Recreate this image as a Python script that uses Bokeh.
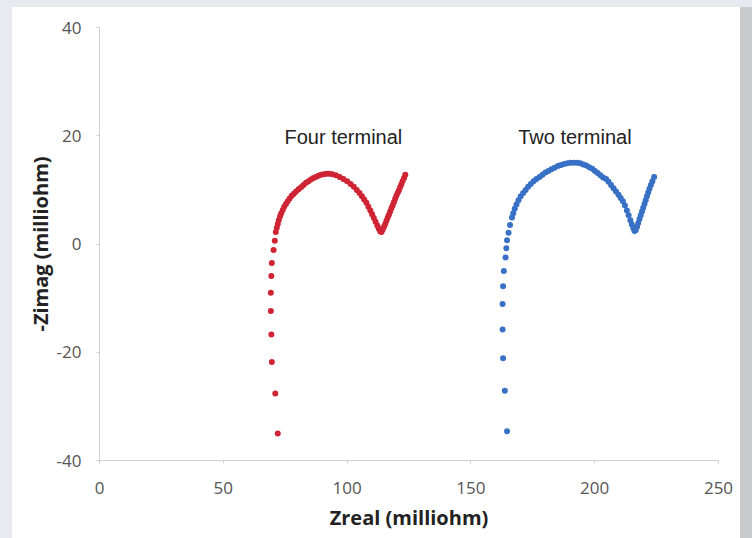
from bokeh.plotting import figure
from bokeh.models import Label, ColumnDataSource
from bokeh.embed import file_html
from bokeh.resources import INLINE

# Four terminal measurement (red): Zreal, -Zimag in milliohm
four_zreal = [72.0, 71.0, 69.6, 69.4, 69.2, 69.2, 69.4, 69.6, 70.3, 70.8, 71.2,
              71.6, 72.0, 72.4, 72.9, 73.4, 74.0, 74.6, 75.3, 76.0, 76.8, 77.6,
              78.5, 79.4, 80.4, 81.4, 82.4, 83.4, 84.4, 85.4, 86.4, 87.4, 88.4,
              89.5, 90.6, 91.7, 92.8, 94.0, 95.5, 97.0, 98.5, 100.0, 101.4, 102.7,
              103.9, 105.0, 106.0, 106.9, 107.8, 108.6, 109.4, 110.1, 110.8, 111.5,
              112.2, 112.8, 113.4, 113.9, 114.4, 114.9, 115.4, 115.9, 116.4, 116.9,
              117.4, 117.9, 118.4, 118.9, 119.4, 119.9, 120.4, 120.9, 121.4, 121.9,
              122.4, 123.0, 123.5]
four_zimag = [-35.0, -27.6, -21.8, -16.7, -12.4, -9.0, -5.9, -3.5, -1.1, 0.6, 2.2,
              3.0, 3.7, 4.4, 5.1, 5.7, 6.3, 6.9, 7.4, 7.9, 8.4, 8.9,
              9.3, 9.7, 10.1, 10.5, 10.9, 11.3, 11.6, 11.9, 12.2, 12.4, 12.6,
              12.8, 12.9, 13.0, 13.0, 12.9, 12.7, 12.4, 12.0, 11.6, 11.1, 10.6,
              10.0, 9.4, 8.8, 8.2, 7.6, 6.9, 6.2, 5.5, 4.8, 4.1,
              3.4, 2.8, 2.3, 2.2, 2.7, 3.2, 3.7, 4.3, 4.9, 5.4,
              6.0, 6.6, 7.1, 7.7, 8.3, 8.9, 9.4, 9.9, 10.5, 11.0,
              11.6, 12.2, 12.8]

# Two terminal measurement (blue)
two_zreal = [164.6, 163.7, 163.0, 162.8, 162.8, 163.0, 163.3, 164.0, 164.3, 164.6,
             165.2, 165.8, 166.6, 167.1, 167.7, 168.4, 169.2, 170.1, 171.1, 172.1,
             173.1, 174.2, 175.3, 176.5, 177.7, 178.9, 180.1, 181.3, 182.5, 183.8,
             185.1, 186.4, 187.7, 189.0, 190.3, 191.6, 192.9, 194.2, 195.4, 196.6,
             197.8, 199.0, 200.1, 201.2, 202.3, 203.4, 204.6, 205.6, 206.6, 207.6,
             208.6, 209.6, 210.5, 211.4, 212.2, 213.0, 213.7, 214.4, 215.0, 215.6,
             216.1, 216.6, 217.1, 217.6, 218.1, 218.6, 219.1, 219.6, 220.1, 220.6,
             221.1, 221.6, 222.1, 222.7, 223.3, 224.0]
two_zimag = [-34.6, -27.1, -21.1, -15.8, -11.1, -7.8, -5.0, -2.5, -0.8, 0.7,
             2.1, 3.5, 4.9, 5.7, 6.5, 7.3, 8.1, 8.8, 9.4, 10.0,
             10.6, 11.1, 11.6, 12.0, 12.4, 12.8, 13.2, 13.5, 13.8, 14.1,
             14.4, 14.6, 14.8, 14.9, 15.0, 15.0, 15.0, 14.9, 14.7, 14.5,
             14.2, 13.9, 13.5, 13.1, 12.7, 12.3, 12.0, 11.5, 10.9, 10.3,
             9.7, 9.1, 8.5, 7.9, 7.1, 6.2, 5.3, 4.4, 3.6, 2.9,
             2.4, 2.6, 3.2, 3.9, 4.6, 5.3, 6.0, 6.7, 7.4, 8.1,
             8.8, 9.5, 10.2, 10.9, 11.6, 12.4]

x_ticks = [0, 50, 100, 150, 200, 250]
y_ticks = [-40, -20, 0, 20, 40]
series_labels = ["Four terminal", "Two terminal"]
label_x = [98.5, 192.0]
label_y = [19.8, 19.8]

RED = "#cf2434"
BLUE = "#3870c6"

p = figure(width=752, height=538, x_range=(0, 250), y_range=(-40, 40),
           output_backend="svg", toolbar_location=None,
           min_border_left=99, min_border_right=34, min_border_top=27,
           min_border_bottom=78)
p.outline_line_color = None
p.xgrid.visible = False
p.ygrid.visible = False
p.background_fill_color = "white"
p.border_fill_color = None
p.styles = {"background-color": "white",
            "box-shadow": "inset 12px 7px 0 0 #e7ebef, inset -12px 0 0 0 #c9cacc"}

src4 = ColumnDataSource(dict(x=four_zreal, y=four_zimag))
src2 = ColumnDataSource(dict(x=two_zreal, y=two_zimag))
p.scatter("x", "y", source=src4, size=6, fill_color=RED, line_color=None)
p.scatter("x", "y", source=src2, size=6, fill_color=BLUE, line_color=None)

for t, lx, ly in zip(series_labels, label_x, label_y):
    p.add_layout(Label(x=lx, y=ly, text=t, text_align="center", text_baseline="middle",
                       text_font="Liberation Sans", text_font_size="20px",
                       text_color="#222222"))

for ax in (p.xaxis[0], p.yaxis[0]):
    ax.axis_line_color = "#d0d0d0"
    ax.major_tick_line_color = "#d0d0d0"
    ax.minor_tick_line_color = None
    ax.major_tick_in = 0
    ax.major_tick_out = 3
    ax.major_label_text_font = "Open Sans"
    ax.major_label_text_font_size = "17px"
    ax.major_label_text_color = "#555555"
    ax.axis_label_text_font = "Open Sans"
    ax.axis_label_text_font_style = "bold"
    ax.axis_label_text_font_size = "20px"
    ax.axis_label_text_color = "#222222"

p.xaxis.ticker = x_ticks
p.yaxis.ticker = y_ticks
p.yaxis.major_label_overrides = {v: str(v) for v in y_ticks}
p.xaxis.axis_label = "Zreal (milliohm)"
p.yaxis.axis_label = "-Zimag (milliohm)"
p.xaxis.major_label_standoff = 18
p.yaxis.major_label_standoff = 15
p.xaxis.axis_label_standoff = 7
p.yaxis.axis_label_standoff = 0

open("out.html", "w").write(file_html(p, INLINE))
